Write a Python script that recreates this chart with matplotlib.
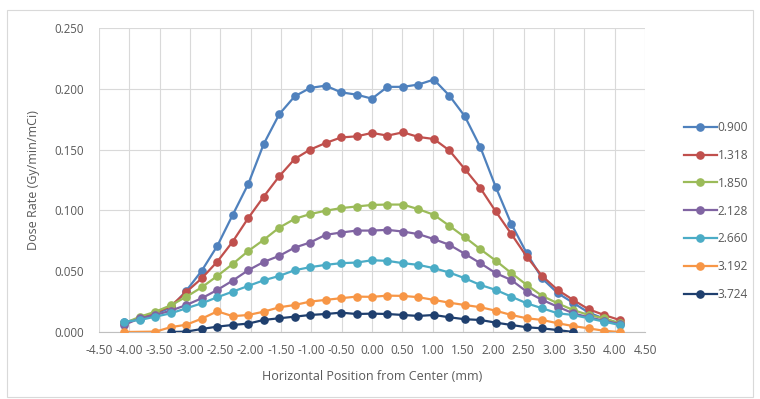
import numpy as np
import matplotlib
matplotlib.use("Agg")
import matplotlib.pyplot as plt
from matplotlib.patches import Rectangle

x_pos = [-4.080, -3.825, -3.570, -3.315, -3.060, -2.805, -2.550, -2.295, -2.040,
         -1.785, -1.530, -1.275, -1.020, -0.765, -0.510, -0.255, 0.000,
         0.255, 0.510, 0.765, 1.020, 1.275, 1.530, 1.785, 2.040,
         2.295, 2.550, 2.805, 3.060, 3.315, 3.570, 3.825, 4.080]

nan = np.nan
s_0900 = [0.008, 0.011, 0.015, 0.020, 0.034, 0.0505, 0.0708, 0.0964, 0.1217,
          0.1546, 0.179, 0.1938, 0.2007, 0.2026, 0.1971, 0.1952, 0.1919,
          0.2016, 0.2016, 0.2035, 0.2076, 0.1944, 0.1774, 0.1521, 0.1192,
          0.089, 0.0648, 0.044, 0.032, 0.024, 0.016, 0.011, 0.007]
s_1318 = [0.007, 0.0113, 0.0159, 0.0214, 0.033, 0.0442, 0.0579, 0.0744, 0.0937,
          0.1113, 0.128, 0.1423, 0.150, 0.1554, 0.160, 0.1609, 0.1637,
          0.1615, 0.1642, 0.1604, 0.1587, 0.1493, 0.134, 0.1184, 0.0991,
          0.0807, 0.062, 0.046, 0.0346, 0.0264, 0.0187, 0.014, 0.0099]
s_1850 = [0.0072, 0.0126, 0.0167, 0.022, 0.029, 0.0368, 0.0461, 0.056, 0.0666,
          0.0758, 0.0858, 0.093, 0.097, 0.0997, 0.1019, 0.1032, 0.1045,
          0.1048, 0.1048, 0.101, 0.0964, 0.0873, 0.078, 0.0681, 0.0587,
          0.0485, 0.0387, 0.0297, 0.0236, 0.0181, 0.014, 0.0113, 0.0072]
s_2128 = [0.006, 0.0113, 0.014, 0.0176, 0.0222, 0.0278, 0.0346, 0.0423, 0.0508,
          0.0576, 0.0626, 0.0694, 0.0736, 0.0799, 0.0818, 0.0834, 0.0834,
          0.084, 0.0826, 0.0805, 0.0764, 0.0717, 0.0643, 0.0566, 0.0484,
          0.0428, 0.0332, 0.0264, 0.0208, 0.0154, 0.0121, 0.0093, 0.0066]
s_2660 = [0.0085, 0.0099, 0.0126, 0.0154, 0.0195, 0.0236, 0.0286, 0.0332, 0.0379,
          0.0425, 0.0461, 0.0508, 0.0533, 0.0552, 0.0566, 0.0571, 0.059,
          0.0585, 0.0566, 0.0552, 0.0525, 0.0489, 0.0442, 0.0387, 0.0346,
          0.0291, 0.0236, 0.0195, 0.0154, 0.014, 0.0113, 0.0085, 0.0058]
s_3192 = [0.000, nan, 0.0003, 0.004, 0.006, 0.011, 0.017, 0.013, 0.014,
          0.0167, 0.0203, 0.0222, 0.025, 0.0264, 0.0278, 0.0291, 0.0289,
          0.0299, 0.0297, 0.0286, 0.0264, 0.0241, 0.0222, 0.0204, 0.0175,
          0.014, 0.0113, 0.0099, 0.0072, 0.0049, 0.003, 0.001, 0.000]
s_3724 = [nan, nan, nan, 0.000, 0.0003, 0.0025, 0.0044, 0.0058, 0.0069,
          0.0099, 0.0113, 0.0126, 0.014, 0.0148, 0.0159, 0.0148, 0.0151,
          0.0148, 0.014, 0.0132, 0.014, 0.0121, 0.0105, 0.0099, 0.0077,
          0.0058, 0.0039, 0.003, 0.0016, 0.000, nan, nan, nan]

labels = ["0.900", "1.318", "1.850", "2.128", "2.660", "3.192", "3.724"]
series = [s_0900, s_1318, s_1850, s_2128, s_2660, s_3192, s_3724]
colors = ["#4F81BD", "#C0504D", "#9BBB59", "#8064A2", "#4BACC6", "#F79646", "#1F3F6E"]

x_ticks = [-4.5, -4.0, -3.5, -3.0, -2.5, -2.0, -1.5, -1.0, -0.5, 0.0,
           0.5, 1.0, 1.5, 2.0, 2.5, 3.0, 3.5, 4.0, 4.5]
y_ticks = [0.0, 0.05, 0.10, 0.15, 0.20, 0.25]

plt.rcParams['font.family'] = ['Open Sans', 'DejaVu Sans']
txt = "#595959"

fig = plt.figure(figsize=(7.6, 3.99), dpi=100)
fig.patches.append(Rectangle((7/760, 2/399), 746/760, 387/399, transform=fig.transFigure,
                             fill=False, edgecolor="#D9D9D9", linewidth=0.8))
ax = fig.add_axes([99/760, 1 - 332/399, 546/760, 304/399])

xa = np.array(x_pos)
for lab, s, c in zip(labels, series, colors):
    ya = np.array(s, dtype=float)
    m = ~np.isnan(ya)
    ax.plot(xa[m], ya[m], color=c, linewidth=1.6, marker='o', markersize=5.2,
            markeredgecolor=c, markerfacecolor=c, label=lab, zorder=3)

ax.set_xlim(-4.5, 4.5)
ax.set_ylim(0, 0.25)
ax.set_xticks(x_ticks)
ax.set_xticklabels([f"{v:.2f}" for v in x_ticks], fontsize=8.6, color=txt)
ax.set_yticks(y_ticks)
ax.set_yticklabels([f"{v:.3f}" for v in y_ticks], fontsize=8.3, color=txt)
ax.tick_params(axis='x', length=0, pad=9)
ax.tick_params(axis='y', length=0, pad=11)
ax.grid(True, color="#D9D9D9", linewidth=0.8)
ax.set_axisbelow(True)
for sp in ["top", "right", "left"]:
    ax.spines[sp].set_visible(False)
ax.spines["bottom"].set_color("#BFBFBF")

ax.set_xlabel("Horizontal Position from Center (mm)", fontsize=9, color=txt, labelpad=9)
ax.set_ylabel("Dose Rate (Gy/min/mCi)", fontsize=9, color=txt, labelpad=10)

leg = fig.legend(loc="upper left", bbox_to_anchor=(673/760, 1 - 110/399), frameon=False,
                 fontsize=8.6, handlelength=2.75, labelspacing=1.25, handletextpad=0.1,
                 labelcolor=txt)

fig.savefig("out.png", dpi=100)
